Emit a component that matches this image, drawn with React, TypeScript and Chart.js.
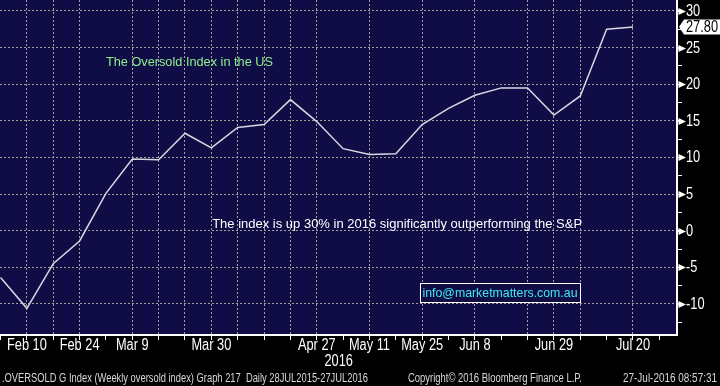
import React, { useEffect, useRef } from 'react';
import { Chart, registerables } from 'chart.js';

Chart.register(...registerables);

// ---- data ----
const weeks = ['Feb 3', 'Feb 10', 'Feb 17', 'Feb 24', 'Mar 2', 'Mar 9', 'Mar 16', 'Mar 23', 'Mar 30', 'Apr 6', 'Apr 13', 'Apr 20', 'Apr 27', 'May 4', 'May 11', 'May 18', 'May 25', 'Jun 1', 'Jun 8', 'Jun 15', 'Jun 22', 'Jun 29', 'Jul 6', 'Jul 13', 'Jul 20', 'Jul 27'];
const oversoldValues = [-6.4, -10.6, -4.5, -1.4, 5.1, 9.8, 9.7, 13.3, 11.3, 14.1, 14.5, 17.9, 14.9, 11.2, 10.4, 10.5, 14.5, 16.7, 18.5, 19.5, 19.5, 15.8, 18.4, 27.5, 27.8];
const labeledWeeks = ['Feb 10', 'Feb 24', 'Mar 9', 'Mar 30', 'Apr 27', 'May 11', 'May 25', 'Jun 8', 'Jun 29', 'Jul 20'];
const gridWeeks = ['Feb 10', 'Feb 17', 'Feb 24', 'Mar 9', 'Mar 16', 'Mar 23', 'Mar 30', 'Apr 6', 'Apr 13', 'Apr 20', 'Apr 27', 'May 11', 'May 25', 'Jun 8', 'Jun 22', 'Jun 29', 'Jul 6', 'Jul 20'];
const yMajorTicks = [-10, -5, 0, 5, 10, 15, 20, 25, 30];
const yMinorStep = 2.5;
const yearLabel = '2016';
const titleText = 'The Oversold Index in the US';
const noteText = 'The index is up 30% in 2016 significantly outperforming the S&P';
const infoText = 'info@marketmatters.com.au';
const footerLeft = '.OVERSOLD G Index (Weekly oversold index) Graph 217  Daily 28JUL2015-27JUL2016';
const footerMid = 'Copyright\u00A9 2016 Bloomberg Finance L.P.';
const footerRight = '27-Jul-2016 08:57:31';

// ---- styles ----
const SANS = '"Liberation Sans", Arial, sans-serif';
const NAVY = '#100c46';
const GRID = 'rgba(175,170,158,0.95)';
const NONE = 'rgba(0,0,0,0)';
const SQUEEZE = 0.8;

function narrowText(ctx: CanvasRenderingContext2D, text: string, x: number, y: number, size: number, align: CanvasTextAlign, squeeze = SQUEEZE) {
  ctx.font = `${size}px ${SANS}`;
  const w = ctx.measureText(text).width * squeeze;
  ctx.textAlign = align;
  ctx.textBaseline = 'middle';
  ctx.fillText(text, x, y, w);
}

const decorPlugin = {
  id: 'decor',
  beforeDraw(chart: any) {
    const { ctx, chartArea: a, width, height } = chart;
    ctx.save();
    ctx.fillStyle = '#000';
    ctx.fillRect(0, 0, width, height);
    ctx.fillStyle = NAVY;
    ctx.fillRect(a.left, a.top, a.right - a.left, a.bottom - a.top);
    ctx.restore();
  },
  afterDraw(chart: any) {
    const { ctx, chartArea: a } = chart;
    const xs = chart.scales.x;
    const ys = chart.scales.y;
    ctx.save();
    // right axis: markers + labels
    ctx.fillStyle = '#fff';
    ctx.strokeStyle = '#fff';
    ctx.lineWidth = 1;
    yMajorTicks.forEach((v) => {
      const y = Math.round(ys.getPixelForValue(v)) + 0.5;
      ctx.beginPath();
      ctx.moveTo(a.right, y);
      ctx.lineTo(a.right + 2, y);
      ctx.stroke();
      ctx.beginPath();
      ctx.moveTo(a.right + 1.5, y - 3.5);
      ctx.lineTo(a.right + 9, y);
      ctx.lineTo(a.right + 1.5, y + 3.5);
      ctx.closePath();
      ctx.fill();
      narrowText(ctx, String(v), a.right + 9, y + 0.5, 16, 'left');
    });
    // last value tag
    const last = oversoldValues[oversoldValues.length - 1];
    const ly = ys.getPixelForValue(last);
    ctx.fillStyle = '#fff';
    ctx.beginPath();
    ctx.moveTo(a.right + 2, ly);
    ctx.lineTo(a.right + 7, ly - 7.5);
    ctx.lineTo(chart.width, ly - 7.5);
    ctx.lineTo(chart.width, ly + 7.5);
    ctx.lineTo(a.right + 7, ly + 7.5);
    ctx.closePath();
    ctx.fill();
    ctx.fillStyle = '#000';
    narrowText(ctx, last.toFixed(2), a.right + 9, ly + 0.5, 16, 'left');

    // bottom axis labels
    ctx.fillStyle = '#fff';
    weeks.forEach((w, i) => {
      if (labeledWeeks.includes(w)) narrowText(ctx, w, xs.getPixelForValue(i), 346, 16, 'center');
    });
    narrowText(ctx, yearLabel, xs.getPixelForValue(12.83), 361.5, 16, 'center');

    // annotations
    ctx.textBaseline = 'middle';
    ctx.textAlign = 'left';
    ctx.font = `13px ${SANS}`;
    ctx.fillStyle = '#8ef08e';
    ctx.fillText(titleText, xs.getPixelForValue(4.0), ys.getPixelForValue(23.0), 167);
    ctx.fillStyle = '#ffffff';
    ctx.fillText(noteText, xs.getPixelForValue(8.03), ys.getPixelForValue(0.9), 370);

    // info box
    const bx = 420.5, by = 283.5, bw = 160, bh = 19;
    ctx.fillStyle = NAVY;
    ctx.fillRect(bx, by, bw, bh);
    ctx.strokeStyle = '#fff';
    ctx.lineWidth = 1;
    ctx.strokeRect(bx, by, bw, bh);
    ctx.fillStyle = '#3ee8f0';
    ctx.font = `13px ${SANS}`;
    ctx.textAlign = 'left';
    ctx.fillText(infoText, 422.5, by + bh / 2 + 0.5, 155);

    // footer
    ctx.fillStyle = '#d8d8d8';
    ctx.font = `12px ${SANS}`;
    ctx.textAlign = 'left';
    ctx.fillText(footerLeft, 2, 379, 366);
    ctx.fillText(footerMid, 408, 379, 174);
    ctx.textAlign = 'right';
    ctx.fillText(footerRight, 717, 379, 94);
    ctx.restore();
  },
};

export default function App() {
  const ref = useRef<HTMLCanvasElement | null>(null);

  useEffect(() => {
    if (!ref.current) return;
    const chart = new Chart(ref.current, {
      type: 'line',
      data: {
        datasets: [
          {
            label: 'Weekly oversold index',
            data: oversoldValues.map((v, i) => ({ x: i, y: v })),
            borderColor: '#d8d8e2',
            borderWidth: 1.5,
            pointRadius: 0,
            tension: 0,
            fill: false,
          },
        ],
      },
      options: {
        animation: false,
        responsive: false,
        devicePixelRatio: 1,
        layout: { padding: 0 },
        plugins: { legend: { display: false }, tooltip: { enabled: false } },
        scales: {
          x: {
            type: 'linear',
            min: -0.02,
            max: 25.67,
            afterBuildTicks: (s: any) => {
              s.ticks = weeks.map((_, i) => ({ value: i }));
            },
            afterFit: (s: any) => {
              s.height = 51;
              s.paddingLeft = 0;
              s.paddingRight = 0;
            },
            ticks: {
              autoSkip: false,
              maxRotation: 0,
              minRotation: 0,
              callback: () => '',
            },
            grid: {
              color: (c: any) => (c.tick && gridWeeks.includes(weeks[Math.round(c.tick.value)]) ? GRID : NONE),
              lineWidth: 1,
              tickColor: '#fff',
              tickLength: 5,
              tickBorderDash: [],
            },
            border: { display: true, color: '#fff', width: 2, dash: [2, 2] },
          },
          y: {
            type: 'linear',
            position: 'right',
            min: -14.24,
            max: 31.5,
            afterBuildTicks: (s: any) => {
              const t: any[] = [];
              for (let v = -12.5; v <= 30; v += yMinorStep) t.push({ value: v });
              s.ticks = t;
            },
            afterFit: (s: any) => {
              s.width = 43;
              s.paddingTop = 0;
              s.paddingBottom = 0;
            },
            ticks: {
              autoSkip: false,
              callback: () => '',
            },
            grid: {
              color: (c: any) => (c.tick && c.tick.value % 5 === 0 ? GRID : NONE),
              lineWidth: 1,
              tickColor: '#fff',
              tickLength: 5,
              tickBorderDash: [],
            },
            border: { display: true, color: '#fff', width: 2, dash: [2, 2] },
          },
        },
      },
      plugins: [decorPlugin],
    } as any);
    return () => chart.destroy();
  }, []);

  return (
    <div style={{ position: 'absolute', left: 0, top: 0, width: 720, height: 386, background: '#000' }}>
      <canvas ref={ref} width={720} height={386} style={{ display: 'block' }} />
    </div>
  );
}
